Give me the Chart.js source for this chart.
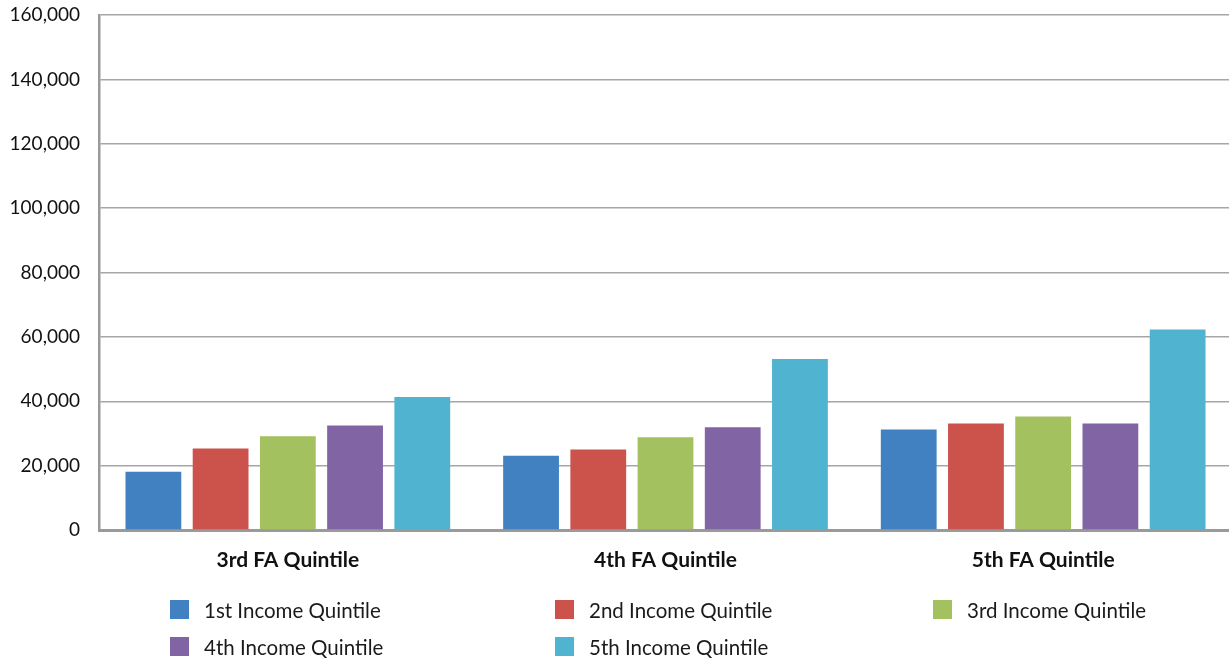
<!DOCTYPE html>
<html>
<head>
<meta charset="utf-8">
<script src="https://cdn.jsdelivr.net/npm/chart.js@4"></script>
<style>
  body { margin: 0; background: #fff; }
  #wrap { position: relative; width: 1229px; height: 660px; overflow: hidden; }
  #legend {
    position: absolute; left: 170px; top: 600px;
    display: grid; grid-template-columns: 385px 378px auto; row-gap: 18px;
    font-family: Lato, sans-serif; font-size: 20.5px; color: #1a1a1a;
  }
  .item { display: flex; align-items: center; height: 19px; white-space: nowrap; }
  .box { width: 19px; height: 19px; margin-right: 15px; }
</style>
</head>
<body>
<div id="wrap">
  <canvas id="chart" width="1232" height="660"></canvas>
  <div id="legend"></div>
</div>
<script>
// categories along the x axis
const categories = ['3rd FA Quintile', '4th FA Quintile', '5th FA Quintile'];

// one series per income quintile
const seriesNames = ['1st Income Quintile', '2nd Income Quintile', '3rd Income Quintile', '4th Income Quintile', '5th Income Quintile'];
const income1 = [18100, 23100, 31200];
const income2 = [25300, 25000, 33100];
const income3 = [29100, 28800, 35300];
const income4 = [32500, 31900, 33100];
const income5 = [41300, 53100, 62300];

const seriesColors = ['#4181c1', '#cb534b', '#a3c15f', '#8064a3', '#50b3cf'];

const values = [income1, income2, income3, income4, income5];
let datasets = seriesNames.map((name, i) => ({
    label: name,
    data: values[i],
    backgroundColor: seriesColors[i]
}));

const chart = new Chart('chart', {
    type: 'bar',
    data: { labels: categories, datasets: datasets },
    options: {
        responsive: false,
        animation: false,
        layout: { padding: { top: 15, right: 0, left: 0, bottom: 0 } },
        plugins: { legend: { display: false }, tooltip: { enabled: false } },
        datasets: { bar: { categoryPercentage: 0.89, barPercentage: 0.83 } },
        scales: {
            x: {
                grid: { display: false, drawTicks: false },
                border: { color: '#9a9a9a', width: 3 },
                ticks: { font: { family: 'Lato', size: 21, weight: 'bold' }, color: '#111', padding: 18 },
                afterFit: (s) => { s.height = 130; }
            },
            y: {
                min: 0, max: 160000,
                ticks: {
                    stepSize: 20000,
                    font: { family: 'Lato', size: 19 }, color: '#111', padding: 0,
                    callback: (v) => v.toLocaleString('en-US')
                },
                // invisible tick marks keep the gap between labels and axis
                grid: { color: '#a6a6a6', lineWidth: 1.5, drawTicks: true, tickLength: 19, tickColor: 'rgba(0,0,0,0)' },
                border: { color: '#9a9a9a', width: 2.5 },
                afterFit: (s) => { s.width = 99; }
            }
        }
    }
});

// html legend in three columns
const legend = document.getElementById('legend');
for (let ds of chart.data.datasets) {
    legend.insertAdjacentHTML('beforeend',
        `<div class="item"><span class="box" style="background:${ds.backgroundColor}"></span>${ds.label}</div>`);
}
</script>
</body>
</html>
